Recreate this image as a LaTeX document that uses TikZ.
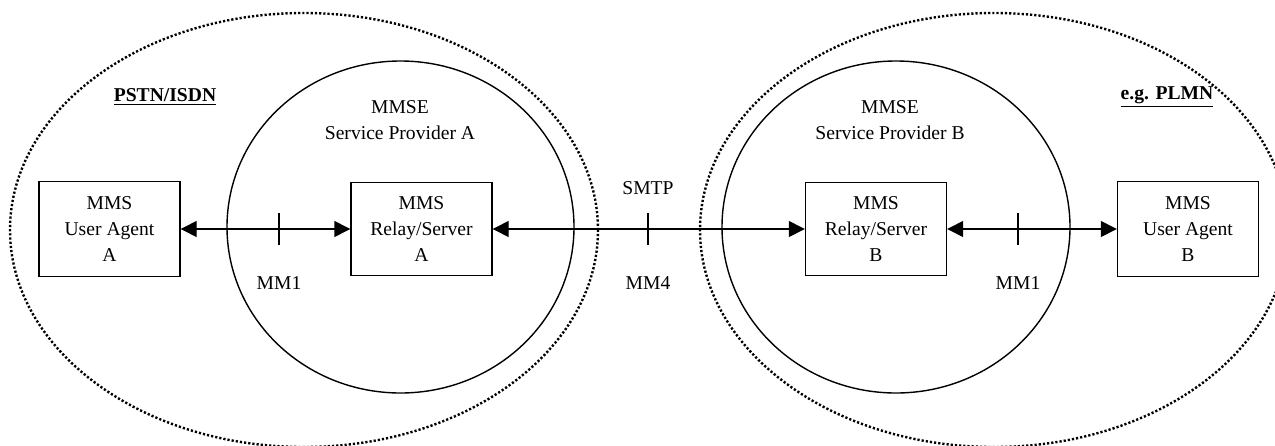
\documentclass[tikz,border=0pt]{standalone}
\usepackage{fontspec}
\setmainfont{Liberation Serif}
\usetikzlibrary{arrows.meta}
\begin{document}
\begin{tikzpicture}[x=0.5pt,y=-0.5pt,
  every node/.style={font=\fontsize{9.8}{13}\selectfont},
  netarea/.style={line width=1.2pt, dash pattern=on 1.1pt off 1pt},
  sparea/.style={line width=0.7pt},
  box/.style={draw, line width=0.7pt, align=center, inner sep=0pt},
  ua/.style={box, minimum width=70.5pt, minimum height=47.5pt},
  relay/.style={box, minimum width=70.5pt, minimum height=46.5pt},
  link/.style={line width=0.7pt, {Triangle[length=8pt,width=8pt]}-{Triangle[length=8pt,width=8pt]}},
  tick/.style={line width=0.6pt},
  lbl/.style={align=center, inner sep=0pt},
  title/.style={inner sep=0pt, font=\fontsize{9.8}{13}\selectfont\bfseries}
]
\useasboundingbox (0,0) rectangle (1275,445);
\clip (0,0) rectangle (1275,445);
% dotted network areas
\draw[netarea] (304,230) ellipse [x radius=147pt, y radius=108.5pt];
\draw[netarea] (994,230) ellipse [x radius=147pt, y radius=108.5pt];
% service provider areas
\draw[sparea] (400.5,227) ellipse [x radius=86.75pt, y radius=83pt];
\draw[sparea] (896,227) ellipse [x radius=87pt, y radius=83pt];
% titles
\node[title] (pstn) at (165,97) {\underline{PSTN/ISDN}};
\node[title] (plmn) at (1167,97) {\underline{e.g. PLMN}};
\node[lbl] (mmsea) at (400,120) {MMSE\\Service Provider A};
\node[lbl] (mmseb) at (890,120) {MMSE\\Service Provider B};
% boxes
\node[ua] (uaa) at (109.5,229) {MMS\\User Agent\\A};
\node[relay] (rla) at (421.5,229) {MMS\\Relay/Server\\A};
\node[relay] (rlb) at (876,229) {MMS\\Relay/Server\\B};
\node[ua] (uab) at (1188,229) {MMS\\User Agent\\B};
% links
\draw[link] (uaa.east) -- (rla.west);
\draw[link] (rla.east) -- (rlb.west);
\draw[link] (rlb.east) -- (uab.west);
% ticks
\coordinate (t1) at (279,229);
\coordinate (t4) at (648,229);
\coordinate (t2) at (1018,229);
\draw[tick] ([yshift=8pt]t1) -- ([yshift=-8pt]t1);
\draw[tick] ([yshift=8pt]t4) -- ([yshift=-8pt]t4);
\draw[tick] ([yshift=8pt]t2) -- ([yshift=-8pt]t2);
% interface labels
\node[lbl] (mm1a) at (279,283) {MM1};
\node[lbl] (smtp) at (648,188) {SMTP};
\node[lbl] (mm4) at (648,283) {MM4};
\node[lbl] (mm1b) at (1018,283) {MM1};
\end{tikzpicture}
\end{document}
